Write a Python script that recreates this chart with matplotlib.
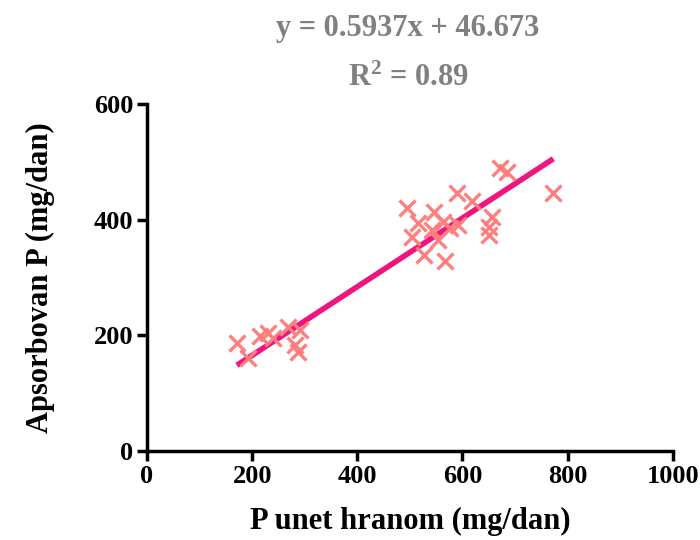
import numpy as np
import matplotlib.pyplot as plt

plt.rcParams['font.family'] = ['Liberation Serif', 'DejaVu Serif']
plt.rcParams['font.weight'] = 'bold'
plt.rcParams['mathtext.fontset'] = 'custom'
plt.rcParams['mathtext.rm'] = 'Liberation Serif:bold'
plt.rcParams['mathtext.bf'] = 'Liberation Serif:bold'

# P unet hranom (mg/dan) vs apsorbovan P (mg/dan)
p_intake = [171, 193, 215, 231, 240, 269, 291, 282, 288,
            589, 618, 494, 545, 516, 564, 592, 577, 504, 542, 554, 526, 567,
            672, 684, 773, 656, 650, 650]
p_absorbed = [186, 160, 198, 204, 195, 215, 209, 183, 172,
              446, 432, 420, 414, 394, 397, 391, 385, 371, 382, 365, 339, 328,
              489, 483, 446, 405, 388, 374]
slope = 0.5937
intercept = 46.673
r2 = 0.89

fig = plt.figure(figsize=(7, 5.4), dpi=100)
ax = fig.add_axes([0.21, 0.165, 0.751, 0.642])

ax.plot(p_intake, p_absorbed, 'x', color='#ff7f7f', markersize=11,
        markeredgewidth=2.4, zorder=3)
xl = np.array([min(p_intake), max(p_intake)])
ax.plot(xl, slope * xl + intercept, color='#f0147f', linewidth=4, zorder=2,
        solid_capstyle='butt')

ax.set_xlim(0, 1000)
ax.set_ylim(0, 600)
ax.set_xticks([0, 200, 400, 600, 800, 1000])
ax.set_yticks([0, 200, 400, 600])
for s in ['top', 'right']:
    ax.spines[s].set_visible(False)
for s in ['left', 'bottom']:
    ax.spines[s].set_linewidth(2.5)
ax.tick_params(width=2.5, length=7, labelsize=19, pad=3)
ax.set_xlabel('P unet hranom (mg/dan)', fontsize=22, fontweight='bold', labelpad=14)
ax.set_ylabel('Apsorbovan P (mg/dan)', fontsize=22, fontweight='bold', labelpad=28)

fig.text(0.583, 0.948, 'y = %.4fx + %.3f' % (slope, intercept), ha='center',
         va='center', fontsize=22, color='#808080', fontweight='bold')
fig.text(0.583, 0.855, '$\\mathbf{R^2}$ = %.2f' % r2, ha='center', va='center',
         fontsize=22, color='#808080', fontweight='bold')

fig.savefig('out.png', dpi=100)
